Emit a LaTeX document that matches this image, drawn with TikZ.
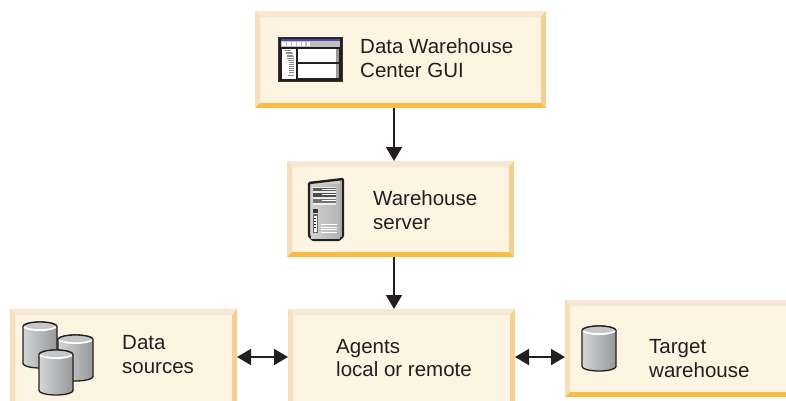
\documentclass[tikz,border=0pt]{standalone}
\usepackage{fontspec}
\setmainfont{Liberation Sans}
\usetikzlibrary{arrows.meta,shadings}
\definecolor{inner}{HTML}{FEF4E2}
\definecolor{bevT}{HTML}{F6E8D2}
\definecolor{bevL}{HTML}{F6E0BC}
\definecolor{bevB}{HTML}{F6BC45}
\definecolor{bevR}{HTML}{F4D08E}
\definecolor{ink}{HTML}{231F20}
\definecolor{cylL}{HTML}{D2D4D6}
\definecolor{cylR}{HTML}{98999B}
\definecolor{capc}{HTML}{C4C6C8}
\tikzset{x=1pt,y=-1pt,
  label/.style={anchor=base west,inner sep=0pt,text=ink,font=\fontsize{20.5}{24}\selectfont},
  link/.style={draw=ink,line width=1.8pt,-{Stealth[length=14pt,width=16pt,inset=0pt]}},
  dlink/.style={draw=ink,line width=1.8pt,{Stealth[length=14pt,width=16pt,inset=0pt]}-{Stealth[length=14pt,width=16pt,inset=0pt]}},
}
% name, x0,y0,x1,y1
\newcommand{\bevbox}[5]{%
  \node[fill=inner,inner sep=0pt,outer sep=0pt,minimum width=#4pt-#2pt,minimum height=#5pt-#3pt,anchor=north west] (#1) at (#2,#3) {};
  \fill[bevT] (#2,#3) -- (#4,#3) -- (#4-5,#3+6) -- (#2+5,#3+6) -- cycle;
  \fill[bevL] (#2,#3) -- (#2+5,#3+6) -- (#2+5,#5-5) -- (#2,#5) -- cycle;
  \fill[bevR] (#4,#3) -- (#4,#5) -- (#4-5,#5-5) -- (#4-5,#3+6) -- cycle;
  \fill[bevB] (#2,#5) -- (#2+5,#5-5) -- (#4-5,#5-5) -- (#4,#5) -- cycle;
}
% x0, ytop, x1, ybottom
\newcommand{\cyl}[4]{%
  \pgfmathsetmacro{\rx}{(#3-#1)/2}
  \pgfmathsetmacro{\cx}{(#3+#1)/2}
  \path[left color=cylL,right color=cylR,draw=ink,line width=1.3pt]
    (#1,#2+4.5) -- (#1,#4-4.5) arc[start angle=180,end angle=360,x radius=\rx,y radius=-4.5] -- (#3,#2+4.5)
    arc[start angle=0,end angle=180,x radius=\rx,y radius=-4.5] -- cycle;
  \begin{scope}
    \clip (\cx,#2+4.5) ellipse [x radius=\rx,y radius=4.5];
    \fill[white] (\cx,#2+4.5) ellipse [x radius=\rx,y radius=4.5];
    \fill[capc] (\cx,#2+2.6) ellipse [x radius=\rx,y radius=4.5];
  \end{scope}
  \draw[ink,line width=1.3pt] (#1,#2+4.5) arc[start angle=180,end angle=0,x radius=\rx,y radius=-4.5];
}
\begin{document}
\begin{tikzpicture}
\useasboundingbox (0,0) rectangle (786,401);
\clip (0,0) rectangle (786,401);
\bevbox{gui}{255}{11}{546}{108}
\bevbox{server}{287}{161}{514}{257}
\bevbox{sources}{10}{309}{237}{410}
\bevbox{agents}{288}{309}{515}{410}
\bevbox{target}{565}{300}{795}{397}
% GUI icon
\fill[black!80!white] (278,37) rectangle (343,82);
\fill[ink] (279,38) rectangle (342,81);
\fill[blue!40!gray] (281,39) rectangle (340,41);
\fill[black!25] (281,41) rectangle (340,47);
\foreach \i in {0,...,5} {\fill[white] (282+4.9*\i,42.5) rectangle (285.8+4.9*\i,46);}
\fill[white] (282,49) rectangle (296,79);
\fill[white] (298,49) rectangle (336,62);
\fill[white] (298,64) rectangle (336,78.5);
\fill[black!40] (336,49) rectangle (339,62);
\fill[black!40] (336,64) rectangle (339,78.5);
\foreach \y/\a/\b in {50.5/285/291,52/286/292,53.5/286/293,55/287/293,56.5/287/294,58/287/294,60/288/294,62/289/294,64/289/294,66/289/294,68/289/294,70/289/294,72/289/294,75/288/294}
  {\draw[black!45,line width=.9pt] (\a,\y) -- (\b,\y);}
% server icon
\path[fill=black!20,draw=ink,line width=2.4pt,rounded corners=1pt]
  (309,183) -- (343,179) -- (343,236) -- (339,240) -- (313,240) -- (309,236) -- cycle;
\path[left color=black!18,right color=black!30] (311,184.5) rectangle (340,238);
\fill[black!35] (340,181) rectangle (342,237);
\fill[white!85!gray] (313,186.5) rectangle (336,204.5);
\fill[black!65] (313,187.5) rectangle (336,191);
\fill[black!70] (313,192.5) rectangle (336,197);
\fill[black!55] (313,198.5) rectangle (336,203);
\draw[white,line width=.7pt] (322,189) -- (336,189) (322,194.5) -- (336,194.5) (322,200.5) -- (336,200.5);
\fill[black!80] (313,209) rectangle (318,213);
\fill[black!60] (312.5,214) rectangle (318,232.5);
\fill[white] (313.5,215.5) rectangle (317,231.5);
\foreach \y in {218,221,224,227}{\fill[black] (314.3,\y) rectangle (316.2,\y+1.4);}
\foreach \y in {224.5,227,229.5,232}{\draw[white,line width=.8pt] (321,\y) -- (337,\y);}
% cylinders
\cyl{23}{322}{57}{368}
\cyl{58}{335}{93}{381}
\cyl{39}{350}{73}{395}
\cyl{582}{326}{616}{371}
% text
\node[label] (t1) at (360,54) {Data Warehouse};
\node[label] (t2) at (360,78) {Center GUI};
\node[label] (t3) at (373,205) {Warehouse};
\node[label] (t4) at (373,229) {server};
\node[label] (t5) at (122,349) {Data};
\node[label] (t6) at (122,373) {sources};
\node[label] (t7) at (336,353) {Agents};
\node[label] (t8) at (336,376) {local or remote};
\node[label] (t9) at (649,353) {Target};
\node[label] (t10) at (649,377) {warehouse};
% connectors
\coordinate (a1) at (394,108);
\draw[link] (gui.south -| a1) -- (server.north -| a1);
\draw[link] (server.south -| a1) -- (agents.north -| a1);
\coordinate (h) at (0,357);
\draw[dlink] (sources.east |- h) -- (agents.west |- h);
\draw[dlink] (agents.east |- h) -- (target.west |- h);
\end{tikzpicture}
\end{document}
